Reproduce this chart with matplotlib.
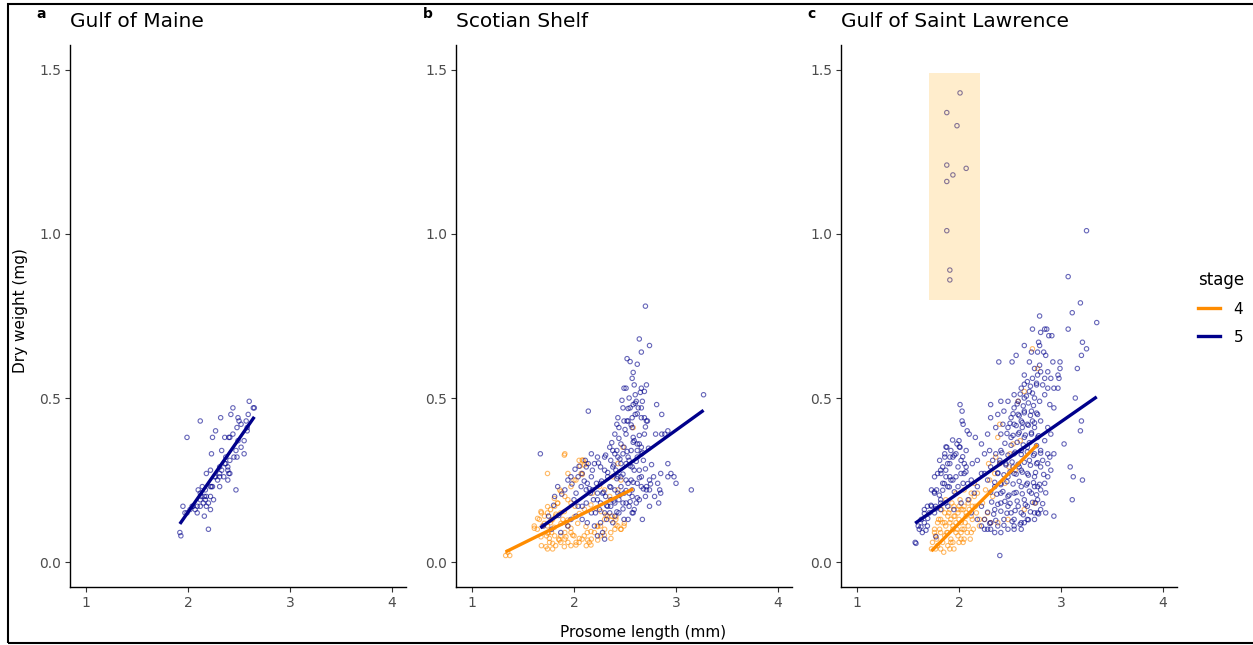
import numpy as np
import matplotlib
matplotlib.use('Agg')
import matplotlib.pyplot as plt
from matplotlib.lines import Line2D
from matplotlib.patches import Rectangle

# Prosome length (mm) / dry weight (mg)
gom_s5_len = [1.99, 2.12, 2.32, 2.42, 2.44, 2.60, 2.64, 2.65, 2.49, 2.50, 2.52, 2.57, 2.59, 2.58, 2.58,
              2.55, 2.52, 2.48, 2.44, 2.41, 2.40, 2.36, 2.27, 2.24, 2.33, 2.23, 2.49, 2.47, 2.48, 2.45,
              2.55, 2.37, 2.39, 2.37, 2.40, 2.41, 2.39, 2.31, 2.29, 2.27, 2.31, 2.22, 2.18, 2.14, 2.17,
              2.22, 2.24, 2.23, 2.22, 2.25, 2.31, 2.31, 2.35, 2.39, 2.47, 2.10, 2.12, 2.13, 2.16, 2.18,
              2.17, 2.20, 2.18, 2.15, 2.12, 2.09, 2.07, 2.05, 2.04, 1.95, 1.97, 2.02, 2.09, 2.16, 2.22,
              2.20, 1.92, 1.93, 1.99, 2.12, 2.26, 2.33, 2.36, 2.41]
gom_s5_dw = [0.38, 0.43, 0.44, 0.45, 0.47, 0.49, 0.47, 0.47, 0.44, 0.43, 0.42, 0.43, 0.45, 0.41, 0.40,
             0.37, 0.35, 0.41, 0.39, 0.38, 0.38, 0.38, 0.40, 0.38, 0.34, 0.33, 0.37, 0.34, 0.32, 0.32,
             0.33, 0.32, 0.29, 0.30, 0.27, 0.27, 0.25, 0.26, 0.25, 0.26, 0.29, 0.28, 0.27, 0.23, 0.22,
             0.23, 0.23, 0.23, 0.20, 0.19, 0.23, 0.27, 0.26, 0.28, 0.22, 0.22, 0.21, 0.20, 0.20, 0.20,
             0.19, 0.18, 0.17, 0.18, 0.19, 0.17, 0.16, 0.17, 0.17, 0.17, 0.15, 0.16, 0.15, 0.14, 0.16,
             0.10, 0.09, 0.08, 0.15, 0.17, 0.26, 0.28, 0.30, 0.31]

ss_s5_len = [2.70, 2.64, 2.74, 2.66, 2.52, 2.57, 2.49, 2.51, 2.59, 2.66, 2.69, 2.71, 2.54, 2.60, 2.61,
             2.67, 2.55, 2.48, 2.58, 2.63, 2.66, 2.60, 2.66, 2.69, 2.81, 2.86, 2.14, 2.43, 2.49, 2.53,
             2.57, 2.52, 2.71, 2.72, 3.27, 2.42, 2.44, 2.57, 2.58, 2.69, 2.80, 2.86, 2.89, 2.92, 2.40,
             2.51, 2.59, 2.62, 2.64, 2.46, 2.49, 2.56, 2.62, 2.66, 2.42, 2.48, 2.53, 2.35, 2.38, 2.40,
             2.43, 2.46, 2.51, 2.54, 2.57, 2.62, 2.66, 2.68, 1.67, 2.17, 2.23, 2.30, 2.36, 2.11, 2.14,
             2.18, 2.20, 2.26, 2.30, 2.38, 2.41, 2.43, 2.46, 2.51, 2.56, 2.59, 2.64, 2.66, 2.53, 2.57,
             2.62, 2.66, 2.71, 2.74, 2.78, 2.85, 2.92, 2.92, 2.95, 2.98, 3.00, 2.71, 2.74, 2.82, 2.84,
             2.85, 3.15, 2.70, 2.79, 2.74, 2.83, 2.59, 2.57, 2.54, 2.51, 2.48, 2.44, 2.40, 2.36, 2.33,
             2.26, 2.23, 2.19, 2.16, 2.12, 2.07, 2.02, 2.00, 2.04, 2.08, 2.12, 2.17, 2.21, 2.25, 2.30,
             2.35, 2.40, 2.44, 2.49, 2.53, 2.58, 2.67, 2.26, 2.32, 2.38, 2.20, 2.23, 2.28, 2.30, 2.13,
             2.08, 2.02, 1.97, 1.94, 1.87, 1.81, 1.84, 1.91, 1.94, 1.97, 2.04, 2.08, 2.12, 2.17, 2.22,
             2.26, 2.33, 2.35, 2.40, 2.43, 2.46, 2.49, 2.54, 2.57, 2.61, 2.64, 2.13, 2.18, 2.23, 2.28,
             2.31, 2.36, 1.70, 1.75, 1.78]
ss_s5_dw = [0.78, 0.68, 0.66, 0.64, 0.62, 0.56, 0.53, 0.53, 0.54, 0.53, 0.52, 0.54, 0.50, 0.51, 0.49,
            0.49, 0.47, 0.47, 0.48, 0.47, 0.47, 0.45, 0.44, 0.44, 0.48, 0.45, 0.46, 0.44, 0.43, 0.43,
            0.44, 0.43, 0.43, 0.43, 0.51, 0.42, 0.41, 0.41, 0.38, 0.39, 0.39, 0.39, 0.39, 0.40, 0.39,
            0.39, 0.37, 0.36, 0.36, 0.36, 0.35, 0.34, 0.34, 0.35, 0.34, 0.33, 0.32, 0.35, 0.34, 0.33,
            0.32, 0.30, 0.30, 0.31, 0.29, 0.32, 0.33, 0.31, 0.33, 0.33, 0.32, 0.32, 0.31, 0.31, 0.30,
            0.28, 0.30, 0.29, 0.28, 0.29, 0.28, 0.26, 0.26, 0.25, 0.25, 0.28, 0.28, 0.26, 0.24, 0.22,
            0.24, 0.23, 0.23, 0.25, 0.26, 0.27, 0.30, 0.26, 0.27, 0.26, 0.24, 0.22, 0.22, 0.24, 0.22,
            0.21, 0.22, 0.20, 0.20, 0.17, 0.18, 0.16, 0.15, 0.17, 0.18, 0.18, 0.19, 0.18, 0.17, 0.17,
            0.18, 0.19, 0.19, 0.21, 0.22, 0.23, 0.21, 0.19, 0.17, 0.17, 0.18, 0.15, 0.15, 0.16, 0.15,
            0.15, 0.14, 0.15, 0.13, 0.13, 0.15, 0.13, 0.12, 0.13, 0.12, 0.11, 0.08, 0.09, 0.07, 0.12,
            0.13, 0.14, 0.13, 0.11, 0.09, 0.20, 0.23, 0.22, 0.25, 0.26, 0.26, 0.27, 0.29, 0.26, 0.24,
            0.24, 0.26, 0.23, 0.22, 0.21, 0.23, 0.21, 0.21, 0.20, 0.18, 0.19, 0.24, 0.22, 0.21, 0.21,
            0.20, 0.19, 0.11, 0.14, 0.10]
# denser core of the Scotian Shelf stage 5 cloud, (length, weight)
ss_s5_core = [(2.24, 0.302), (2.31, 0.326), (2.37, 0.364), (2.44, 0.377), (2.50, 0.404), (2.56, 0.418),
              (2.62, 0.452), (2.27, 0.247), (2.33, 0.273), (2.39, 0.296), (2.45, 0.314), (2.52, 0.337),
              (2.58, 0.365), (2.64, 0.386), (2.70, 0.412), (2.29, 0.213), (2.36, 0.228), (2.42, 0.254),
              (2.48, 0.268), (2.55, 0.293), (2.61, 0.307), (2.67, 0.334), (2.73, 0.347), (2.32, 0.172),
              (2.39, 0.186), (2.45, 0.204), (2.51, 0.218), (2.58, 0.243), (2.64, 0.257), (2.70, 0.284),
              (2.76, 0.297), (2.42, 0.153), (2.48, 0.162), (2.55, 0.184), (2.62, 0.196), (2.68, 0.223),
              (2.75, 0.238), (2.05, 0.292), (2.10, 0.247), (2.15, 0.224), (1.98, 0.238), (2.01, 0.283),
              (1.88, 0.207), (1.80, 0.173), (1.85, 0.142), (2.47, 0.493), (2.53, 0.468), (2.60, 0.484),
              (2.65, 0.517), (2.58, 0.578), (2.62, 0.603), (2.55, 0.611)]

ss_s4_len = [1.91, 1.74, 1.94, 2.05, 2.09, 2.12, 2.07, 2.00, 1.86, 1.91, 1.94, 1.97, 2.01, 1.84, 1.81,
             1.77, 1.74, 1.71, 1.68, 1.66, 1.61, 1.64, 1.69, 1.74, 1.77, 1.79, 1.82, 1.87, 1.89, 1.92,
             1.94, 1.97, 2.00, 2.02, 2.05, 2.08, 2.10, 2.13, 2.15, 2.12, 2.17, 2.20, 2.23, 2.26, 2.30,
             2.33, 2.37, 2.41, 2.43, 2.46, 2.49, 2.40, 2.36, 2.30, 2.26, 1.68, 1.74, 1.76, 1.79, 1.82,
             1.87, 1.91, 1.73, 1.75, 1.78, 1.81, 1.85, 1.87, 1.91, 1.94, 1.97, 1.35, 1.33, 1.37, 2.46,
             2.43, 2.38, 2.48, 2.58, 2.43, 2.35, 2.30, 2.25, 2.18]
ss_s4_dw = [0.33, 0.27, 0.27, 0.31, 0.31, 0.30, 0.27, 0.25, 0.22, 0.20, 0.19, 0.18, 0.17, 0.18, 0.17,
            0.16, 0.15, 0.14, 0.15, 0.13, 0.11, 0.10, 0.11, 0.11, 0.12, 0.13, 0.14, 0.15, 0.13, 0.12,
            0.11, 0.09, 0.08, 0.06, 0.06, 0.07, 0.08, 0.09, 0.06, 0.05, 0.07, 0.09, 0.11, 0.11, 0.13,
            0.14, 0.14, 0.13, 0.11, 0.10, 0.11, 0.10, 0.09, 0.10, 0.08, 0.05, 0.04, 0.06, 0.04, 0.05,
            0.06, 0.07, 0.08, 0.09, 0.09, 0.08, 0.07, 0.08, 0.09, 0.06, 0.05, 0.03, 0.02, 0.02, 0.25,
            0.22, 0.26, 0.35, 0.41, 0.30, 0.20, 0.22, 0.23, 0.21]
ss_s4_core = [(1.905, 0.326), (2.08, 0.311), (2.10, 0.296), (2.06, 0.293), (2.08, 0.267), (2.019, 0.250),
              (1.970, 0.230), (1.872, 0.215), (1.807, 0.194), (1.839, 0.179), (1.741, 0.169), (1.676, 0.154),
              (1.643, 0.133), (1.611, 0.103), (1.709, 0.118), (1.774, 0.128), (1.807, 0.106), (1.872, 0.118),
              (1.938, 0.128), (2.003, 0.138), (2.052, 0.148), (2.101, 0.161), (2.166, 0.174), (2.215, 0.164),
              (2.264, 0.154), (2.313, 0.143), (2.362, 0.128), (2.411, 0.113), (2.460, 0.100), (2.493, 0.118),
              (2.411, 0.138), (2.117, 0.108), (2.166, 0.093), (2.232, 0.108), (2.297, 0.082), (2.362, 0.072),
              (2.232, 0.067), (2.134, 0.067), (2.052, 0.072), (1.987, 0.082), (1.921, 0.077), (1.856, 0.067),
              (1.790, 0.057), (1.725, 0.047), (1.676, 0.077), (1.741, 0.088), (1.970, 0.103), (2.036, 0.118),
              (1.905, 0.154), (1.823, 0.146), (1.758, 0.072), (1.905, 0.047), (2.019, 0.052), (2.166, 0.052)]

gsl_s5_len = [2.01, 1.88, 1.98, 1.88, 2.07, 1.94, 1.88, 1.88, 1.91, 1.91,
              3.25, 3.07, 3.19, 3.11, 3.35, 2.79, 3.07, 2.72, 2.84, 2.86, 2.80, 2.88, 2.91, 2.78, 2.79,
              2.64, 3.21, 3.25, 3.20, 2.56, 2.52, 2.39, 2.71, 2.77, 2.83, 2.85, 2.99, 2.99, 2.92, 3.16,
              2.69, 2.79, 2.74, 2.80, 2.87, 2.77, 2.84, 2.90, 2.97, 2.98, 2.64, 2.67, 2.72, 2.76, 2.82,
              2.87, 2.93, 2.97, 2.54, 2.61, 2.58, 2.64, 2.69, 2.74, 2.79, 2.84, 2.89, 2.93, 3.14, 3.20,
              3.19, 3.03, 3.09, 3.12, 3.21, 3.11, 2.85, 2.93, 2.01, 2.03, 2.03, 2.04, 2.08, 2.10, 2.16,
              2.22, 2.28, 2.31, 2.31, 2.38, 2.36, 2.41, 2.43, 2.00, 1.98, 2.01, 2.07, 1.88, 1.86, 1.91,
              1.94, 1.97, 2.02, 2.07, 2.13, 2.18, 2.25, 2.30, 2.36, 2.41, 1.76, 1.79, 1.82, 1.87, 1.91,
              1.94, 1.99, 2.04, 1.89, 1.84, 1.78, 1.73, 1.76, 1.82, 1.73, 1.77, 1.82, 1.87, 1.71, 1.66,
              1.60, 1.64, 1.57, 1.61, 1.69, 2.40,
              2.22, 2.28, 2.35, 2.41, 2.48, 2.54, 2.61, 2.67, 2.74, 2.80, 2.87, 2.77, 2.71, 2.64, 2.58,
              2.51, 2.44, 2.38, 2.31, 2.25, 2.28, 2.35, 2.41, 2.48, 2.54, 2.61, 2.67, 2.74, 2.80, 2.77,
              2.67, 2.61, 2.54, 2.48, 2.41, 2.35, 2.41, 2.48, 2.54, 2.61, 2.67, 2.74, 2.80, 2.84, 2.87,
              2.90, 2.38, 2.31, 2.25, 2.54, 2.61, 2.67, 2.74, 2.80, 2.87, 2.77, 2.71, 2.64, 2.58, 2.51,
              2.48, 2.54, 2.61, 2.67, 2.74, 2.80, 2.87, 2.90, 2.84, 2.77, 2.71, 2.64, 2.58, 2.51, 2.44,
              2.41, 2.48, 2.54, 2.72, 2.62, 2.69, 2.76, 2.82, 2.89, 2.93, 2.59, 2.53, 2.46, 2.40, 2.33,
              1.89, 1.95, 2.02, 2.09, 2.15, 2.12, 2.18, 2.22, 2.18, 2.12, 2.05, 1.99, 1.91, 1.84, 1.81,
              1.86, 1.92, 1.82, 1.76, 1.69, 1.66, 1.63, 2.22, 2.25, 2.31, 2.54, 2.61, 2.64, 2.74, 2.77,
              2.75]
gsl_s5_dw = [1.43, 1.37, 1.33, 1.21, 1.20, 1.18, 1.16, 1.01, 0.89, 0.86,
             1.01, 0.87, 0.79, 0.76, 0.73, 0.75, 0.71, 0.71, 0.71, 0.71, 0.70, 0.69, 0.69, 0.67, 0.66,
             0.66, 0.67, 0.65, 0.63, 0.63, 0.61, 0.61, 0.64, 0.64, 0.64, 0.63, 0.61, 0.59, 0.61, 0.59,
             0.61, 0.60, 0.59, 0.58, 0.58, 0.57, 0.56, 0.56, 0.57, 0.56, 0.57, 0.55, 0.56, 0.54, 0.54,
             0.53, 0.53, 0.53, 0.51, 0.53, 0.49, 0.50, 0.52, 0.50, 0.49, 0.51, 0.48, 0.47, 0.50, 0.43,
             0.40, 0.36, 0.29, 0.26, 0.25, 0.19, 0.15, 0.14, 0.48, 0.46, 0.43, 0.42, 0.40, 0.39, 0.38,
             0.36, 0.39, 0.48, 0.44, 0.45, 0.41, 0.39, 0.42, 0.37, 0.36, 0.35, 0.34, 0.35, 0.32, 0.32,
             0.32, 0.33, 0.31, 0.29, 0.30, 0.31, 0.33, 0.34, 0.33, 0.34, 0.26, 0.27, 0.28, 0.28, 0.26,
             0.25, 0.23, 0.24, 0.23, 0.24, 0.22, 0.22, 0.21, 0.19, 0.17, 0.17, 0.18, 0.18, 0.15, 0.12,
             0.11, 0.09, 0.06, 0.10, 0.11, 0.02,
             0.27, 0.25, 0.23, 0.24, 0.26, 0.27, 0.28, 0.27, 0.26, 0.29, 0.30, 0.23, 0.21, 0.19, 0.17,
             0.15, 0.13, 0.11, 0.12, 0.13, 0.10, 0.09, 0.09, 0.10, 0.11, 0.12, 0.13, 0.15, 0.16, 0.19,
             0.17, 0.15, 0.13, 0.17, 0.18, 0.16, 0.21, 0.20, 0.21, 0.23, 0.24, 0.23, 0.22, 0.24, 0.26,
             0.28, 0.27, 0.29, 0.27, 0.33, 0.34, 0.35, 0.33, 0.34, 0.33, 0.38, 0.39, 0.38, 0.39, 0.38,
             0.41, 0.42, 0.43, 0.42, 0.41, 0.43, 0.41, 0.39, 0.37, 0.45, 0.46, 0.46, 0.45, 0.44, 0.46,
             0.49, 0.49, 0.47, 0.43, 0.41, 0.31, 0.30, 0.31, 0.32, 0.33, 0.29, 0.29, 0.30, 0.31, 0.31,
             0.17, 0.16, 0.18, 0.19, 0.21, 0.15, 0.13, 0.17, 0.23, 0.25, 0.27, 0.29, 0.30, 0.29, 0.31,
             0.33, 0.34, 0.16, 0.15, 0.17, 0.16, 0.13, 0.11, 0.10, 0.10, 0.10, 0.10, 0.12, 0.13, 0.15,
             0.18]
# denser core of the Gulf of Saint Lawrence stage 5 cloud, (length, weight)
gsl_s5_core = [(2.30, 0.118), (2.36, 0.127), (2.44, 0.112), (2.52, 0.124), (2.60, 0.115), (2.68, 0.129),
               (2.28, 0.152), (2.34, 0.146), (2.41, 0.155), (2.47, 0.149), (2.55, 0.157), (2.63, 0.144),
               (2.70, 0.153), (2.78, 0.147), (2.32, 0.183), (2.38, 0.176), (2.45, 0.185), (2.50, 0.179),
               (2.57, 0.186), (2.65, 0.175), (2.72, 0.182), (2.82, 0.178), (2.31, 0.213), (2.37, 0.207),
               (2.43, 0.215), (2.49, 0.204), (2.56, 0.212), (2.62, 0.208), (2.69, 0.216), (2.76, 0.205),
               (2.85, 0.211), (2.35, 0.243), (2.41, 0.236), (2.47, 0.245), (2.53, 0.238), (2.59, 0.246),
               (2.66, 0.235), (2.73, 0.242), (2.79, 0.237), (2.38, 0.272), (2.44, 0.266), (2.50, 0.275),
               (2.56, 0.268), (2.62, 0.274), (2.68, 0.265), (2.75, 0.273), (2.83, 0.267), (2.40, 0.302),
               (2.46, 0.296), (2.52, 0.305), (2.58, 0.298), (2.64, 0.304), (2.70, 0.295), (2.77, 0.303),
               (2.42, 0.333), (2.48, 0.326), (2.55, 0.335), (2.61, 0.328), (2.67, 0.336), (2.73, 0.325),
               (2.80, 0.332), (2.45, 0.362), (2.51, 0.356), (2.57, 0.365), (2.63, 0.357), (2.69, 0.364),
               (2.76, 0.355), (2.47, 0.392), (2.53, 0.386), (2.59, 0.395), (2.65, 0.387), (2.71, 0.394),
               (2.78, 0.385), (2.50, 0.423), (2.56, 0.416), (2.62, 0.425), (2.68, 0.417), (2.74, 0.424),
               (2.53, 0.452), (2.59, 0.446), (2.64, 0.455), (2.70, 0.447), (2.76, 0.454), (2.57, 0.482),
               (2.63, 0.476), (2.68, 0.485), (2.73, 0.477), (2.60, 0.512), (2.66, 0.506), (2.72, 0.515),
               (2.64, 0.542), (2.70, 0.536), (2.76, 0.545),
               (1.937, 0.372), (1.872, 0.351), (2.003, 0.351), (1.954, 0.326), (2.036, 0.321), (1.889, 0.300),
               (1.823, 0.270), (1.872, 0.260), (1.921, 0.250), (1.970, 0.260), (2.019, 0.270), (2.068, 0.275),
               (1.856, 0.239), (1.905, 0.229), (1.758, 0.214), (1.807, 0.204), (1.725, 0.173), (1.774, 0.163),
               (1.660, 0.148), (1.693, 0.133), (1.627, 0.107), (1.676, 0.097), (1.774, 0.077), (1.578, 0.057),
               (1.840, 0.219), (1.954, 0.214), (2.085, 0.239), (2.052, 0.300)]

gsl_s4_len = [2.72, 2.77, 2.64, 2.58, 2.40, 2.38, 2.53, 2.29, 2.36, 2.49, 2.74, 2.64, 2.38, 2.48,
              2.12, 2.15, 2.09, 2.05, 2.02, 1.99, 1.95, 1.92, 1.89, 1.86, 1.82, 1.79, 1.76, 1.77, 1.74,
              1.77, 1.82, 1.89, 1.91, 1.94, 1.99, 2.02, 2.05, 2.09, 2.13, 2.17, 2.20, 2.12, 2.05, 2.00,
              1.86, 1.82, 1.87, 1.94, 1.97, 2.02, 2.07, 2.10, 2.13, 2.00, 1.95, 1.91, 1.84, 1.73, 2.25,
              2.31, 1.89, 1.92, 1.97, 2.04]
gsl_s4_dw = [0.65, 0.59, 0.52, 0.49, 0.42, 0.38, 0.36, 0.30, 0.32, 0.29, 0.18, 0.16, 0.12, 0.13,
             0.21, 0.20, 0.18, 0.17, 0.16, 0.15, 0.14, 0.13, 0.14, 0.15, 0.13, 0.12, 0.10, 0.08, 0.06,
             0.04, 0.04, 0.05, 0.04, 0.06, 0.08, 0.09, 0.10, 0.11, 0.13, 0.15, 0.11, 0.09, 0.07, 0.06,
             0.08, 0.09, 0.11, 0.10, 0.12, 0.12, 0.14, 0.16, 0.17, 0.17, 0.17, 0.16, 0.12, 0.04, 0.13,
             0.12, 0.09, 0.07, 0.09, 0.06]
gsl_s4_core = [(1.78, 0.07), (1.81, 0.10), (1.84, 0.06), (1.86, 0.12), (1.88, 0.09), (1.90, 0.15),
               (1.92, 0.06), (1.94, 0.11), (1.96, 0.14), (1.98, 0.10), (2.00, 0.13), (2.02, 0.07),
               (2.04, 0.16), (2.06, 0.12), (2.08, 0.09), (2.10, 0.19), (2.12, 0.14), (2.14, 0.10),
               (2.16, 0.17), (2.18, 0.21), (2.20, 0.13), (1.83, 0.16), (1.87, 0.19), (1.93, 0.18),
               (1.97, 0.21), (2.01, 0.19), (2.05, 0.22), (1.80, 0.13), (1.76, 0.09), (1.79, 0.05),
               (1.85, 0.03), (1.95, 0.04), (2.03, 0.10), (2.11, 0.07), (1.91, 0.12), (1.99, 0.16),
               (2.07, 0.15), (2.23, 0.18), (2.26, 0.22), (2.30, 0.25), (2.35, 0.27), (2.40, 0.30),
               (2.45, 0.24), (2.50, 0.33), (2.55, 0.28), (2.60, 0.37), (2.33, 0.20), (2.15, 0.24),
               (2.28, 0.15)]

# linear fits (intercept, slope) as drawn in the reference
fit_intercept = {'Gulf of Maine': {'5': -0.742},
                 'Scotian Shelf': {'4': -0.173, '5': -0.270},
                 'Gulf of Saint Lawrence': {'4': -0.506, '5': -0.2215}}
fit_slope = {'Gulf of Maine': {'5': 0.447},
             'Scotian Shelf': {'4': 0.1535, '5': 0.224},
             'Gulf of Saint Lawrence': {'4': 0.312, '5': 0.2164}}

regions = ['Gulf of Maine', 'Scotian Shelf', 'Gulf of Saint Lawrence']
letters = ['a', 'b', 'c']
stages = ['4', '5']
stage_colors = {'4': '#FF8C00', '5': '#00008B'}


def merge(xs, ys, pairs=()):
    return list(xs) + [p[0] for p in pairs], list(ys) + [p[1] for p in pairs]


data = {
    'Gulf of Maine': {'5': (gom_s5_len, gom_s5_dw)},
    'Scotian Shelf': {'4': merge(ss_s4_len, ss_s4_dw, ss_s4_core),
                      '5': merge(ss_s5_len, ss_s5_dw, ss_s5_core)},
    'Gulf of Saint Lawrence': {'4': merge(gsl_s4_len, gsl_s4_dw, gsl_s4_core),
                               '5': merge(gsl_s5_len, gsl_s5_dw, gsl_s5_core)},
}

# highlighted block of heavy outliers in the Gulf of Saint Lawrence panel
box_len = (1.71, 2.21)
box_dw = (0.80, 1.49)

W, H = 1253, 645
fig = plt.figure(figsize=(W / 100, H / 100), dpi=100)

lefts = [70, 456, 841]
axes = []
for i, region in enumerate(regions):
    ax = fig.add_axes([lefts[i] / W, (H - 587) / H, 336 / W, 542 / H])
    axes.append(ax)
    groups = data[region]
    for st in stages:
        if st not in groups:
            continue
        x, y = groups[st]
        ax.scatter(x, y, s=10, facecolors='none', edgecolors=stage_colors[st],
                   linewidths=0.8, alpha=0.6, zorder=2)
    for st in stages:
        if st not in groups:
            continue
        x = np.asarray(groups[st][0])
        # the heavy outliers in the box are not part of the fit range
        x = x[np.asarray(groups[st][1]) < box_dw[0]]
        xs = np.array([x.min(), x.max()])
        ax.plot(xs, fit_intercept[region][st] + fit_slope[region][st] * xs,
                color=stage_colors[st], lw=2.4, solid_capstyle='butt', zorder=3)
    if region == 'Gulf of Saint Lawrence':
        ax.add_patch(Rectangle((box_len[0], box_dw[0]), box_len[1] - box_len[0],
                               box_dw[1] - box_dw[0], facecolor='#FFA500', alpha=0.2,
                               edgecolor='none', zorder=4))

    ax.set_xlim(0.843, 4.137)
    ax.set_ylim(-0.076, 1.576)
    ax.set_xticks([1, 2, 3, 4])
    ax.set_yticks([0.0, 0.5, 1.0, 1.5])
    ax.set_yticklabels(['0.0', '0.5', '1.0', '1.5'])
    for side in ['top', 'right']:
        ax.spines[side].set_visible(False)
    for side in ['left', 'bottom']:
        ax.spines[side].set_linewidth(1.0)
        ax.spines[side].set_color('black')
    ax.tick_params(axis='both', length=3.5, width=0.8, color='#333333',
                   labelcolor='#4D4D4D', labelsize=10, pad=3)
    ax.set_title(region, loc='left', fontsize=14.5, pad=13)
    ax.text(-0.1, 1.045, letters[i], transform=ax.transAxes, fontsize=10,
            fontweight='bold', ha='left', va='bottom')

axes[0].set_ylabel('Dry weight (mg)', fontsize=11)
axes[0].yaxis.set_label_coords(-0.125, 0.51)
fig.text(643 / W, 1 - 633 / H, 'Prosome length (mm)', ha='center', va='center', fontsize=11)

handles = [Line2D([], [], color=stage_colors[s], lw=2.4) for s in stages]
leg = fig.legend(handles, stages, title='stage', loc='upper left',
                 bbox_to_anchor=(1190 / W, 1 - 263 / H), frameon=False, borderpad=0,
                 fontsize=11, title_fontsize=12, handlelength=1.45,
                 labelspacing=0.85, handletextpad=0.9)
leg._legend_box.align = 'left'

fig.patches.append(Rectangle((8 / W, 2 / H), 1260 / W, 639 / H, transform=fig.transFigure,
                             fill=False, edgecolor='black', linewidth=1.5))

fig.savefig('out.png', dpi=100)
